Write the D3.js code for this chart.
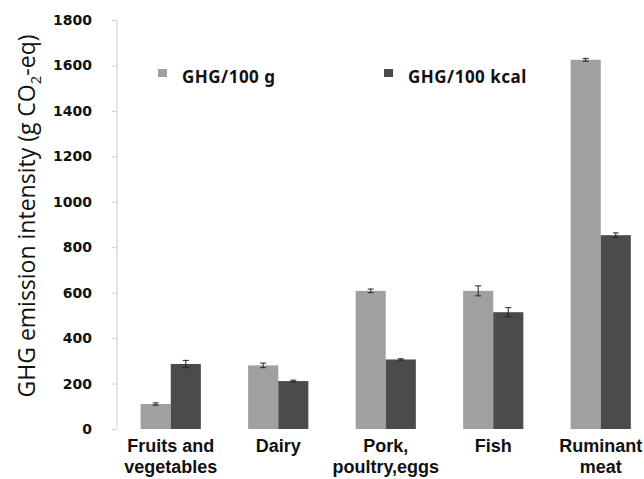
<!DOCTYPE html>
<html><head><meta charset="utf-8">
<script src="https://cdn.jsdelivr.net/npm/d3@7"></script>
<style>body{margin:0;background:#fff}svg{display:block}</style>
</head><body>
<script>
const categories = [["Fruits and","vegetables"],["Dairy"],["Pork,","poultry,eggs"],["Fish"],["Ruminant","meat"]];
const seriesNames = ["GHG/100 g","GHG/100 kcal"];
const per100g = [110, 280, 608, 608, 1625];
const per100gErr = [5, 10, 8, 22, 6];
const per100kcal = [286, 211, 306, 514, 853];
const per100kcalErr = [16, 4, 3, 20, 10];
const yTicks = [0,200,400,600,800,1000,1200,1400,1600,1800];
const colors = ["#a0a0a0","#4b4b4b"];

const W=644,H=479;
const svg=d3.select("body").append("svg").attr("width",W).attr("height",H);
const font="'Open Sans', sans-serif";
const bfont="'Noto Sans', 'Open Sans', sans-serif";
const cfont="'Liberation Sans', Arial, sans-serif";
const tfont="'DejaVu Sans', sans-serif";
const x0=117, xEnd=654.5, yTop=20, yBase=429;
const y=d3.scaleLinear().domain([0,1800]).range([yBase,yTop]);
const x=d3.scaleBand().domain(d3.range(categories.length)).range([x0,xEnd]).paddingInner(0.44).paddingOuter(0.22);
const xs=d3.scaleBand().domain([0,1]).range([0,x.bandwidth()]);

// y axis
const yAxis=d3.axisLeft(y).tickValues(yTicks).tickFormat(d3.format("d")).tickSize(5).tickPadding(20);
const ga=svg.append("g").attr("transform",`translate(${x0},0)`).call(yAxis);
ga.select(".domain").attr("stroke","#cfcfcf").attr("d",`M0,${yTop}V${yBase}`);
ga.selectAll(".tick line").attr("stroke","#cfcfcf");
ga.selectAll(".tick text").attr("font-family",tfont).attr("font-weight","bold").attr("font-size","14px").attr("fill","#111");

// y label
svg.append("text").attr("transform",`translate(35,216) rotate(-90)`)
  .attr("text-anchor","middle").attr("font-family",font).attr("font-size","23px").attr("fill","#111")
  .call(t=>{t.append("tspan").text("GHG emission intensity (g CO");
            t.append("tspan").attr("font-size","15px").attr("dy","6").text("2");
            t.append("tspan").attr("dy","-6").text("-eq)");});

const series=[[per100g,per100gErr],[per100kcal,per100kcalErr]];
series.forEach(([vals,errs],s)=>{
  const g=svg.append("g");
  g.selectAll("rect").data(vals).join("rect")
    .attr("x",(d,i)=>x(i)+xs(s)).attr("width",xs.bandwidth())
    .attr("y",d=>y(d)).attr("height",d=>yBase-y(d)).attr("fill",colors[s]);
  const eb=g.selectAll("g.e").data(vals).join("g");
  eb.each(function(d,i){
    const cx=x(i)+xs(s)+xs.bandwidth()/2, e=errs[i], gg=d3.select(this);
    gg.append("line").attr("x1",cx).attr("x2",cx).attr("y1",y(d+e)).attr("y2",y(d-e)).attr("stroke","#222").attr("stroke-width",1);
    [d+e,d-e].forEach(v=>gg.append("line").attr("x1",cx-3).attr("x2",cx+3).attr("y1",y(v)).attr("y2",y(v)).attr("stroke","#222").attr("stroke-width",1));
  });
});

// category labels
categories.forEach((lines,i)=>{
  const t=svg.append("text").attr("text-anchor","middle").attr("font-family",cfont).attr("font-weight","bold").attr("font-size","18px").attr("fill","#111");
  lines.forEach((l,j)=>t.append("tspan").attr("x",x(i)+x.bandwidth()/2).attr("y",452+j*21).text(l));
});

// legend
const legX=[158,384];
seriesNames.forEach((n,s)=>{
  svg.append("rect").attr("x",legX[s]).attr("y",69).attr("width",9).attr("height",8).attr("fill",colors[s]);
  svg.append("text").attr("x",legX[s]+24).attr("y",83).attr("font-family",bfont).attr("font-weight","bold").attr("font-size","17px").attr("letter-spacing","0.5px").attr("fill","#111").text(n);
});
</script>
</body></html>
